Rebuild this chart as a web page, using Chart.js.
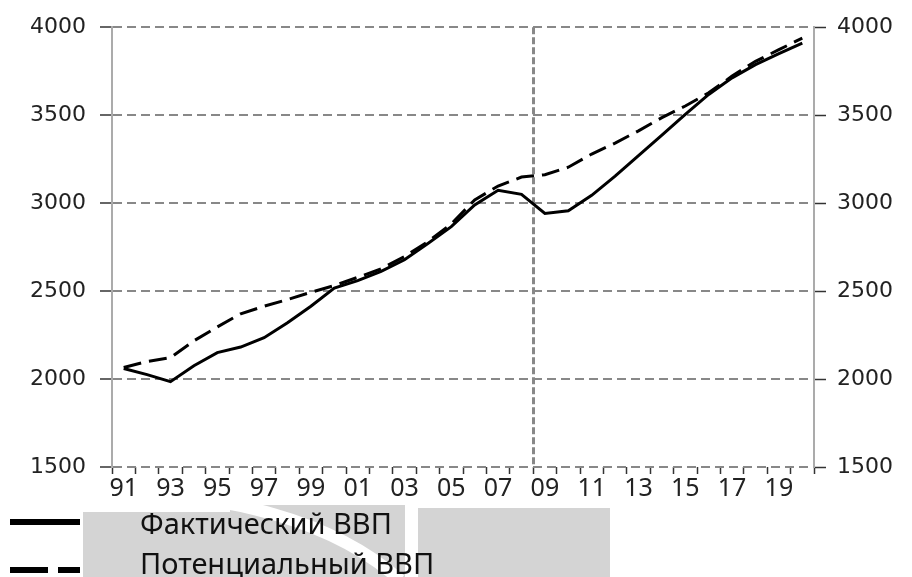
<!DOCTYPE html>
<html>
<head>
<meta charset="utf-8">
<script src="https://cdn.jsdelivr.net/npm/chart.js@4.4.0/dist/chart.umd.min.js"></script>
<style>
body { margin: 0; background: #fff; }
#wrap { position: relative; width: 912px; height: 577px; overflow: hidden; }
#mark { position: absolute; left: 0; top: 0; z-index: 0; }
#gdpChart { position: absolute; left: 0; top: 0; z-index: 1; }
#legend { position: absolute; left: 0; top: 0; z-index: 2; }
.legend-row { position: absolute; left: 0; width: 600px; height: 40px; }
.legend-line { position: absolute; left: 10px; width: 70px; height: 6px; }
.legend-text { position: absolute; left: 140px; font-family: "Noto Sans", sans-serif; font-size: 29px; line-height: 40px; color: #111; white-space: nowrap; }
</style>
</head>
<body>
<div id="wrap">
  <svg id="mark" width="912" height="577">
    <rect x="83" y="512" width="322" height="65" fill="#d4d4d4"/>
    <rect x="230" y="505" width="175" height="72" fill="#d4d4d4"/>
    <path d="M 220 502 Q 335 522 400 580" stroke="#fff" stroke-width="12" fill="none"/>
    <rect x="418" y="508" width="192" height="69" fill="#d4d4d4"/>
  </svg>
  <canvas id="gdpChart" width="912" height="577"></canvas>
  <div id="legend"></div>
</div>
<script>
var years = ["1991", "1992", "1993", "1994", "1995", "1996", "1997", "1998", "1999", "2000",
             "2001", "2002", "2003", "2004", "2005", "2006", "2007", "2008", "2009", "2010",
             "2011", "2012", "2013", "2014", "2015", "2016", "2017", "2018", "2019", "2020"];

var actualGdp = [2060, 2025, 1985, 2076, 2150, 2182, 2235, 2320, 2414, 2517,
                 2559, 2612, 2678, 2771, 2866, 2990, 3073, 3050, 2941, 2957,
                 3044, 3153, 3270, 3386, 3505, 3618, 3712, 3787, 3850, 3910];

var potentialGdp = [2066, 2100, 2122, 2217, 2296, 2371, 2414, 2452, 2493, 2531,
                    2578, 2627, 2696, 2781, 2882, 3018, 3097, 3148, 3161, 3204,
                    3279, 3341, 3411, 3486, 3552, 3627, 3722, 3806, 3872, 3938];

var seriesNames = ["Фактический ВВП", "Потенциальный ВВП"];
var yMin = 1500;
var yMax = 4000;
var yStep = 500;
var crisisYear = "2009";

var gridGrey = "#888888";
var axisGrey = "#ababab";
var tickDark = "#333333";
var labelFont = { family: "'DejaVu Sans', Verdana, sans-serif", size: 22 };

var crisisIndex = years.indexOf(crisisYear);

function plainNumber(value) {
    return String(value);
}

var myLineChart = new Chart(document.getElementById("gdpChart"), {
    type: 'line',
    data: {
        labels: years,
        datasets: [{
            label: seriesNames[0],
            data: actualGdp,
            borderColor: "#000",
            borderWidth: 3,
            borderDash: [],
            pointRadius: 0,
            tension: 0,
            fill: false
        }, {
            label: seriesNames[1],
            data: potentialGdp,
            borderColor: "#000",
            borderWidth: 3,
            borderDash: [18, 8],
            pointRadius: 0,
            tension: 0,
            fill: false
        }]
    },
    options: {
        responsive: false,
        animation: false,
        layout: { padding: { top: 24, bottom: 75, left: 0, right: 0 } },
        plugins: {
            legend: { display: false },
            tooltip: { enabled: false }
        },
        scales: {
            x: {
                offset: true,
                grid: {
                    offset: true,
                    drawOnChartArea: true,
                    // only the 2009 boundary gets a line, the rest keep just their tick mark
                    color: function (ctx) {
                        return ctx.index === crisisIndex ? gridGrey : "rgba(0,0,0,0)";
                    },
                    lineWidth: 3,
                    tickColor: tickDark,
                    tickWidth: 1.5,
                    tickLength: 7
                },
                border: { display: false, dash: [7, 3] },
                ticks: {
                    autoSkip: false,
                    maxRotation: 0,
                    padding: 0,
                    color: "#222",
                    font: { family: "'Noto Sans', sans-serif", size: 25 },
                    callback: function (value, index) {
                        var year = this.getLabelForValue(value);
                        return index % 2 === 0 ? year.slice(2) : "";
                    }
                },
                afterFit: function (scale) { scale.height = 35; }
            },
            y: {
                position: 'left',
                min: yMin,
                max: yMax,
                grid: {
                    color: gridGrey,
                    lineWidth: 2,
                    tickColor: tickDark,
                    tickWidth: 1.5,
                    tickLength: 12
                },
                border: { color: axisGrey, width: 2, dash: [9, 5] },
                ticks: { stepSize: yStep, padding: 14, color: "#222", font: labelFont, callback: plainNumber },
                afterFit: function (scale) { scale.width = 112; }
            },
            y2: {
                position: 'right',
                min: yMin,
                max: yMax,
                grid: {
                    drawOnChartArea: false,
                    tickColor: tickDark,
                    tickWidth: 1.5,
                    tickLength: 12
                },
                border: { color: axisGrey, width: 2 },
                ticks: { stepSize: yStep, padding: 11, color: "#222", font: labelFont, callback: plainNumber },
                afterFit: function (scale) { scale.width = 98; }
            }
        }
    }
});

function buildLegend(chart) {
    var $legend = document.getElementById("legend");
    var rowTops = [503, 543];
    var lineTops = [519, 567];
    chart.data.datasets.forEach(function (ds, i) {
        var row = document.createElement("div");
        row.className = "legend-row";
        row.style.top = rowTops[i] + "px";
        var line = document.createElement("div");
        line.className = "legend-line";
        line.style.top = (lineTops[i] - rowTops[i]) + "px";
        if (ds.borderDash.length) {
            line.style.background = "repeating-linear-gradient(to right, #000 0 38px, transparent 38px 48px)";
        } else {
            line.style.background = "#000";
        }
        var text = document.createElement("div");
        text.className = "legend-text";
        text.textContent = ds.label;
        row.appendChild(line);
        row.appendChild(text);
        $legend.appendChild(row);
    });
}

buildLegend(myLineChart);
</script>
</body>
</html>
